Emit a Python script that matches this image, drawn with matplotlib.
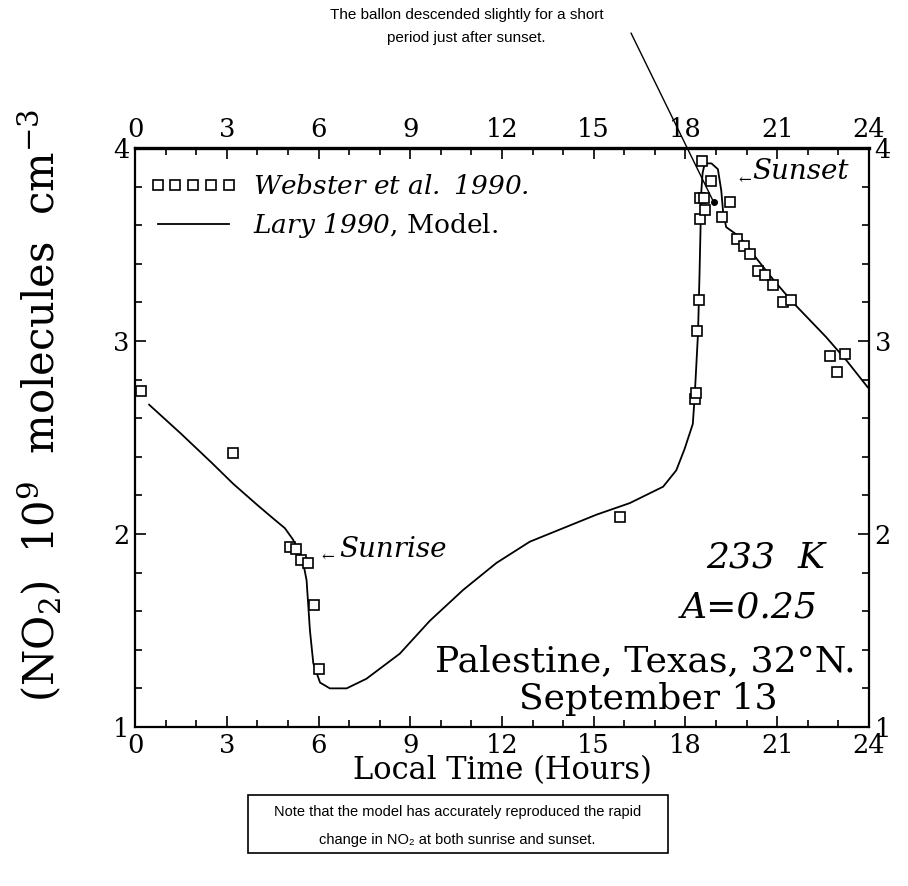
import matplotlib
matplotlib.use("Agg")
import matplotlib.pyplot as plt
from matplotlib.lines import Line2D
from matplotlib.patches import Rectangle

# NO2 column, Palestine Texas, 13 Sept -- observations vs model
obs_hours = [0.2, 3.2, 5.07, 5.27, 5.42, 5.67, 5.86, 6.02, 15.87,
             18.3, 18.33, 18.39, 18.44, 18.46, 18.46, 18.54, 18.6, 18.64,
             18.82, 19.2, 19.47, 19.69, 19.9, 20.12, 20.36, 20.61, 20.86,
             21.19, 21.46, 22.73, 22.96, 23.22]
obs_no2 = [2.74, 2.42, 1.93, 1.92, 1.865, 1.85, 1.63, 1.30, 2.09,
           2.70, 2.73, 3.05, 3.21, 3.63, 3.74, 3.93, 3.74, 3.68,
           3.83, 3.64, 3.72, 3.53, 3.49, 3.45, 3.36, 3.34, 3.29,
           3.20, 3.21, 2.92, 2.84, 2.93]

model_hours = [0.46, 1.5, 2.5, 3.21, 4.0, 4.52, 4.9, 5.17, 5.5, 5.61, 5.72,
               5.83, 6.05, 6.37, 6.92, 7.57, 8.66, 9.64, 10.73, 11.82, 12.91,
               14.0, 15.09, 16.18, 17.27, 17.7, 17.97, 18.24, 18.3, 18.41,
               18.46, 18.52, 18.56, 18.63, 18.85, 19.06, 19.17, 19.23, 19.33,
               19.77, 20.21, 20.86, 21.51, 22.6, 23.26, 23.96]
model_no2 = [2.67, 2.52, 2.37, 2.26, 2.15, 2.08, 2.03, 1.97, 1.85, 1.76, 1.50,
             1.33, 1.23, 1.20, 1.20, 1.25, 1.38, 1.55, 1.71, 1.85, 1.96,
             2.03, 2.10, 2.16, 2.245, 2.33, 2.44, 2.57, 2.71, 3.04,
             3.35, 3.78, 3.87, 3.92, 3.92, 3.89, 3.78, 3.67, 3.59,
             3.54, 3.45, 3.32, 3.20, 3.02, 2.90, 2.76]

hour_ticks = [0, 3, 6, 9, 12, 15, 18, 21, 24]
no2_ticks = [1, 2, 3, 4]

# balloon note points at this spot
balloon_hour, balloon_no2 = 18.92, 3.72

plt.rcParams['font.family'] = ['DejaVu Serif']
plt.rcParams['mathtext.fontset'] = 'custom'
plt.rcParams['mathtext.rm'] = 'DejaVu Serif'
plt.rcParams['mathtext.it'] = 'DejaVu Serif:italic'
plt.rcParams['mathtext.sf'] = 'DejaVu Serif:italic'   # used for italic digits in legend
plt.rcParams['mathtext.bf'] = 'DejaVu Serif:bold'

fig = plt.figure(figsize=(9.08, 8.86), dpi=100)
ax = fig.add_axes([0.1487, 0.1795, 0.8083, 0.6535])

ax.plot(model_hours, model_no2, color='k', lw=1.3)
ax.plot(obs_hours, obs_no2, ls='none', marker='s', ms=6.5, mfc='white',
        mec='k', mew=1.2)

ax.set_xlim(0, 24)
ax.set_ylim(1, 4)
ax.set_xticks(hour_ticks)
ax.set_xticks(range(0, 25), minor=True)
ax.set_yticks(no2_ticks)
ax.set_yticks([1 + 0.2 * i for i in range(16)], minor=True)
ax.tick_params(which='both', direction='in', top=True, right=True,
               labeltop=True, labelright=True, labelsize=18.5, width=1.2)
ax.tick_params(which='major', length=8, pad=4)
ax.tick_params(which='minor', length=5)
for s in ax.spines.values():
    s.set_linewidth(1.6)
ax.spines['top'].set_linewidth(2.4)

ax.set_xlabel('Local Time (Hours)', fontsize=22, labelpad=-2)
ax.set_ylabel(r'(NO$_2$)  10$^9$  molecules  cm$^{-3}$', fontsize=30)
ax.yaxis.set_label_coords(-0.097, 0.555)

handles = [Line2D([], [], ls='none', marker='s', ms=6.5, mfc='white', mec='k', mew=1.2),
           Line2D([], [], color='k', lw=1.3)]
labels = [r'$\mathsf{Webster\ et\ al.\ 1990.}$', r'$\mathsf{Lary\ 1990}$, Model.']
ax.legend(handles, labels, loc='upper left', bbox_to_anchor=(0.02, 0.955),
          numpoints=5, handlelength=3.3, handletextpad=0.6, labelspacing=0.45,
          frameon=False, fontsize=19, borderaxespad=0, borderpad=0)

ax.text(19.72, 3.83, '←', fontsize=11, va='center', ha='left')
ax.text(20.18, 3.876, 'Sunset', fontsize=20, style='italic', va='center')
ax.text(6.1, 1.88, '←', fontsize=11, va='center', ha='left')
ax.text(6.68, 1.917, 'Sunrise', fontsize=20, style='italic', va='center')

ax.text(22.56, 1.876, '233  K', fontsize=26, style='italic', ha='right', va='center')
ax.text(22.33, 1.62, 'A=0.25', fontsize=26, style='italic', ha='right', va='center')
ax.text(16.68, 1.34, 'Palestine, Texas, 32°N.', fontsize=26, ha='center', va='center')
ax.text(16.8, 1.145, 'September 13', fontsize=26, ha='center', va='center')

sans = ['Liberation Sans', 'DejaVu Sans']
fig.text(0.514, 0.983, 'The ballon descended slightly for a short',
         family=sans, fontsize=11, ha='center', va='center')
fig.text(0.514, 0.957, 'period just after sunset.',
         family=sans, fontsize=11, ha='center', va='center')
ax.annotate('', xy=(balloon_hour, balloon_no2), xytext=(631 / 908, 1 - 33 / 886),
            textcoords='figure fraction',
            arrowprops=dict(arrowstyle='-', lw=1.0, color='k', shrinkA=0, shrinkB=0))
ax.plot([balloon_hour], [balloon_no2], 'ko', ms=4)

fig.add_artist(Rectangle((0.273, 0.0372), 0.4626, 0.0655, transform=fig.transFigure,
                         fill=False, lw=1.2, ec='k'))
fig.text(0.504, 0.0835, 'Note that the model has accurately reproduced the rapid',
         family=sans, fontsize=10.5, ha='center', va='center')
fig.text(0.504, 0.0519, 'change in NO₂ at both sunrise and sunset.',
         family=sans, fontsize=10.5, ha='center', va='center')

fig.savefig('out.png', dpi=100)
